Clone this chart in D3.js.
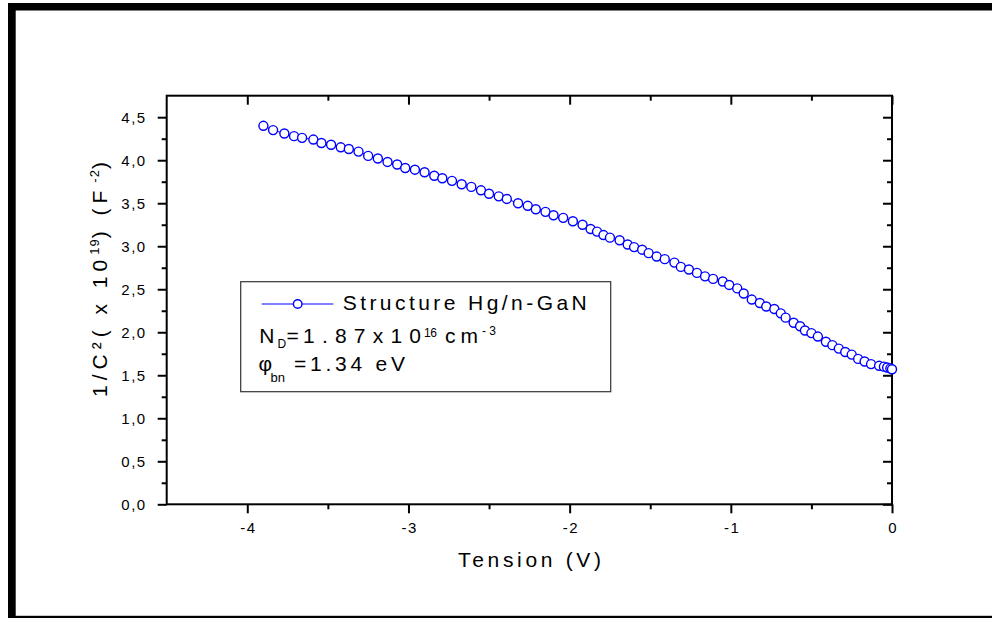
<!DOCTYPE html>
<html><head><meta charset="utf-8">
<script src="https://cdn.jsdelivr.net/npm/d3@7"></script>
<style>
body{margin:0;background:#fff}
svg{display:block}
text{font-family:"Liberation Sans",Arial,Helvetica,sans-serif;fill:#000}
</style>
</head><body>
<svg id="c" width="992" height="618"></svg>
<script>
// ---- data ----
const voltage = [-3.90,-3.84,-3.77,-3.71,-3.66,-3.59,-3.54,-3.48,-3.42,-3.37,-3.31,-3.25,-3.19,-3.13,-3.07,-3.02,-2.96,-2.90,-2.84,-2.79,-2.73,-2.67,-2.61,-2.55,-2.50,-2.44,-2.39,-2.32,-2.26,-2.21,-2.15,-2.10,-2.04,-1.98,-1.92,
  -1.87,-1.83,-1.79,-1.75,-1.69,-1.64,-1.60,-1.55,-1.51,-1.46,-1.41,-1.35,-1.31,-1.26,-1.21,-1.16,-1.11,-1.05,-1.01,-0.96,
  -0.92,-0.87,-0.82,-0.78,-0.73,-0.69,-0.66,-0.61,-0.57,-0.54,-0.50,-0.46,-0.41,-0.37,-0.33,-0.29,-0.25,-0.21,-0.17,-0.13,-0.08,-0.05,-0.03,-0.01,0.00];
const invC2 = [4.40,4.35,4.31,4.28,4.26,4.24,4.20,4.18,4.15,4.13,4.10,4.05,4.02,3.98,3.95,3.91,3.89,3.86,3.82,3.79,3.76,3.72,3.69,3.65,3.61,3.58,3.55,3.50,3.47,3.43,3.40,3.36,3.33,3.29,3.25,
  3.20,3.17,3.13,3.10,3.07,3.02,2.99,2.96,2.92,2.88,2.85,2.81,2.76,2.73,2.69,2.65,2.62,2.59,2.55,2.51,
  2.45,2.38,2.34,2.30,2.27,2.22,2.17,2.11,2.07,2.02,1.99,1.95,1.89,1.85,1.81,1.77,1.74,1.69,1.66,1.63,1.61,1.60,1.59,1.58,1.57];
const xTicks = [-4,-3,-2,-1,0];
const xTickLabels = ["-4","-3","-2","-1","0"];
const xMinorTicks = [-3.5,-2.5,-1.5,-0.5];
const yTicks = [0,0.5,1,1.5,2,2.5,3,3.5,4,4.5];
const yTickLabels = ["0,0","0,5","1,0","1,5","2,0","2,5","3,0","3,5","4,0","4,5"];
const yMinorTicks = [0.25,0.75,1.25,1.75,2.25,2.75,3.25,3.75,4.25];
const xDomain = [-4.5, 0];
const yDomain = [0, 4.75];
const seriesName = "Structure Hg/n-GaN";
const xTitle = "Tension (V)";

// ---- layout ----
const L = 166.7, R = 892, T = 95.7, B = 504.3;
const svg = d3.select("#c");
const blue = "#0000ff";

// outer frame
svg.append("rect").attr("x",8).attr("y",3).attr("width",984).attr("height",7.5).attr("fill","#000");
svg.append("rect").attr("x",8).attr("y",3).attr("width",7.7).attr("height",615).attr("fill","#000");
svg.append("rect").attr("x",8).attr("y",615.8).attr("width",984).attr("height",2.2).attr("fill","#000");

const x = d3.scaleLinear().domain(xDomain).range([L, R]);
const y = d3.scaleLinear().domain(yDomain).range([B, T]);

function styleAxis(sel){
  sel.select(".domain").remove();
  sel.attr("font-family", null).attr("font-size", null);
  sel.selectAll(".tick line").attr("stroke","#000").attr("stroke-width",2);
  sel.selectAll(".tick text").attr("fill","#000").style("font-size","15px").style("letter-spacing","1.5px");
}
// left
svg.append("g").attr("transform",`translate(${L},0)`)
  .call(d3.axisLeft(y).tickValues(yTicks).tickSize(9).tickPadding(11).tickFormat((d,i)=>yTickLabels[i]))
  .call(styleAxis);
svg.append("g").attr("transform",`translate(${L},0)`)
  .call(d3.axisLeft(y).tickValues(yMinorTicks).tickSize(5).tickFormat(""))
  .call(styleAxis);
// right (inward)
svg.append("g").attr("transform",`translate(${R},0)`)
  .call(d3.axisRight(y).tickValues(yTicks).tickSize(-9).tickFormat(""))
  .call(styleAxis);
svg.append("g").attr("transform",`translate(${R},0)`)
  .call(d3.axisRight(y).tickValues(yMinorTicks).tickSize(-5).tickFormat(""))
  .call(styleAxis);
// bottom
const bx = svg.append("g").attr("transform",`translate(0,${B})`)
  .call(d3.axisBottom(x).tickValues(xTicks).tickSize(9).tickPadding(9).tickFormat((d,i)=>xTickLabels[i]))
  .call(styleAxis);
bx.selectAll(".tick text").attr("dx","0.75");
svg.append("g").attr("transform",`translate(0,${B})`)
  .call(d3.axisBottom(x).tickValues(xMinorTicks).tickSize(5).tickFormat(""))
  .call(styleAxis);
// top (inward)
svg.append("g").attr("transform",`translate(0,${T})`)
  .call(d3.axisTop(x).tickValues(xTicks).tickSize(-9).tickFormat(""))
  .call(styleAxis);
svg.append("g").attr("transform",`translate(0,${T})`)
  .call(d3.axisTop(x).tickValues(xMinorTicks).tickSize(-5).tickFormat(""))
  .call(styleAxis);

// axis box
svg.append("rect").attr("x",L).attr("y",T).attr("width",R-L).attr("height",B-T)
  .attr("fill","none").attr("stroke","#000").attr("stroke-width",2);

// series
const pts = voltage.map((v,i)=>({v, c:invC2[i]}));
svg.append("path").datum(pts)
  .attr("fill","none").attr("stroke",blue).attr("stroke-width",1)
  .attr("d", d3.line().x(d=>x(d.v)).y(d=>y(d.c)));
svg.append("g").selectAll("circle").data(pts).join("circle")
  .attr("cx",d=>x(d.v)).attr("cy",d=>y(d.c)).attr("r",4.5)
  .attr("fill","#fff").attr("stroke",blue).attr("stroke-width",1.4);

// legend
const lg = svg.append("g");
lg.append("rect").attr("x",240.7).attr("y",281.7).attr("width",370).attr("height",110)
  .attr("fill","#fff").attr("stroke","#333").attr("stroke-width",1.2);
lg.append("line").attr("x1",261.7).attr("x2",333.3).attr("y1",304).attr("y2",304)
  .attr("stroke",blue).attr("stroke-width",1);
lg.append("circle").attr("cx",297.7).attr("cy",304).attr("r",4.3)
  .attr("fill","#fff").attr("stroke",blue).attr("stroke-width",1.4);
function seg(str, xx, yy, size, len){
  const t = lg.append("text").attr("x",xx).attr("y",yy).style("font-size",size+"px").text(str);
  if(len){ t.attr("textLength",len).attr("lengthAdjust","spacing"); }
  return t;
}
seg(seriesName, 342.7, 309.8, 21, 244);
seg("N", 259.3, 343, 21);
seg("D", 277.5, 348, 12);
seg("=", 286.5, 343, 21);
seg("1.87x10", 303, 343, 21, 118);
seg("16", 424, 336.5, 12, 13);
seg("cm", 445, 343, 21, 33);
seg("-3", 482, 335, 12, 14);
seg("\u03C6", 258.5, 370.5, 21);
seg("bn", 270.5, 381.5, 13);
seg("=1.34 eV", 294, 370.5, 21, 111);

// x title
svg.append("text").attr("x",458).attr("y",566.5).style("font-size","21px")
  .attr("textLength",143).attr("lengthAdjust","spacing").text(xTitle);

// y title (rotated)
const yt = svg.append("text").attr("transform","translate(107,397) rotate(-90)")
  .style("font-size","21px").style("letter-spacing","5px");
yt.append("tspan").text("1/C\u00B2( x 10");
yt.append("tspan").attr("dy",-8).style("font-size","13px").style("letter-spacing","1px").text("19");
yt.append("tspan").attr("dy",8).text(") (F");
yt.append("tspan").attr("dy",-8).attr("dx",3).style("font-size","13px").style("letter-spacing","1px").text("-2");
yt.append("tspan").attr("dy",8).text(")");
</script>
</body></html>
